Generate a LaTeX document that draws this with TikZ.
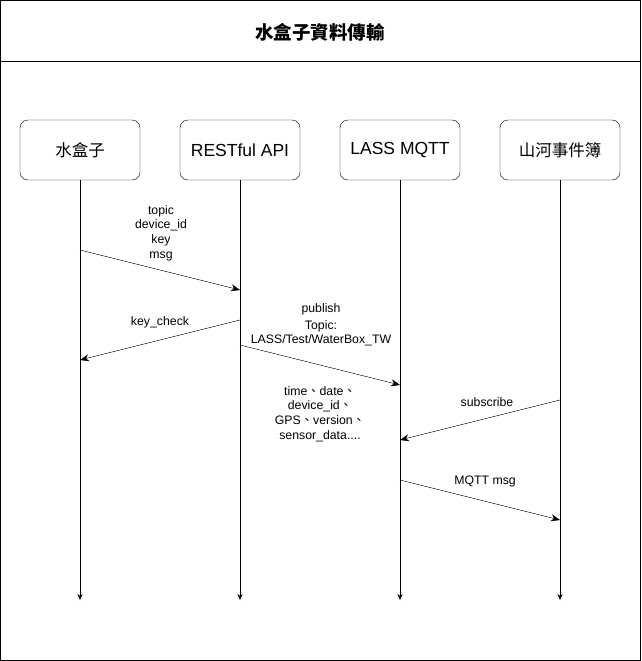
\documentclass[tikz,border=0pt]{standalone}
\usepackage{fontspec}
\setmainfont{Liberation Sans}
\newfontfamily\cjk{Noto Sans CJK TC}
\usetikzlibrary{arrows.meta,positioning}
\newcommand{\dun}{{\cjk 、}}

\begin{document}
\begin{tikzpicture}[x=1pt, y=-1pt,
    actor/.style={rectangle, draw, rounded corners=8pt, minimum width=120pt, minimum height=60pt, inner sep=0pt, font=\fontsize{17.5}{20}\selectfont},
    msglabel/.style={align=center, inner sep=0pt, font=\fontsize{12.3}{14.6}\selectfont},
    lifeline/.style={-{Stealth[length=6pt,width=5pt]}},
    message/.style={-{Stealth[length=9pt,width=7pt]}}]
    \useasboundingbox (0,0) rectangle (641,661);
    \draw (0.5,0.5) rectangle (640,660);
    \draw (0.5,61) -- (640,61);
    \node[font=\cjk\bfseries\fontsize{18.5}{21}\selectfont] at (320,32) (title) {水盒子資料傳輸};

    % participants
    \node[actor] at (80,150) (box) {\cjk\fontsize{16.5}{19}\selectfont 水盒子};
    \node[actor] at (240,150) (api) {RESTful API};
    \node[actor] at (400,150) (mqtt) {LASS MQTT};
    \node[actor] at (560,150) (book) {\cjk\fontsize{16.5}{19}\selectfont 山河事件簿};

    % lifelines
    \foreach \p/\x in {box/80, api/240, mqtt/400, book/560}{
        \coordinate (\p-end) at (\x,600);
        \draw[lifeline] (\p.south) -- (\p-end);
    }

    % messages
    \coordinate (a1) at (80,250);  \coordinate (b1) at (240,290);
    \coordinate (a2) at (240,320); \coordinate (b2) at (80,360);
    \coordinate (a3) at (240,345); \coordinate (b3) at (400,385);
    \coordinate (a4) at (560,400); \coordinate (b4) at (400,440);
    \coordinate (a5) at (400,480); \coordinate (b5) at (560,520);
    \foreach \i in {1,...,5}
        \draw[message] (a\i) -- (b\i);

    \node[msglabel] at (161,233) (l1) {topic\\device\_id\\key\\msg};
    \node[msglabel] at (160,322) (l2) {key\_check};
    \node[msglabel] at (321,325) (l3) {publish\\[2pt]Topic:\\LASS/Test/WaterBox\_TW};
    \node[msglabel] at (320,414) (l4) {time\dun date\dun\\device\_id\dun\\GPS\dun version\dun\\sensor\_data....};
    \node[msglabel] at (487,402) (l5) {subscribe};
    \node[msglabel] at (485,481) (l6) {MQTT msg};
\end{tikzpicture}
\end{document}
